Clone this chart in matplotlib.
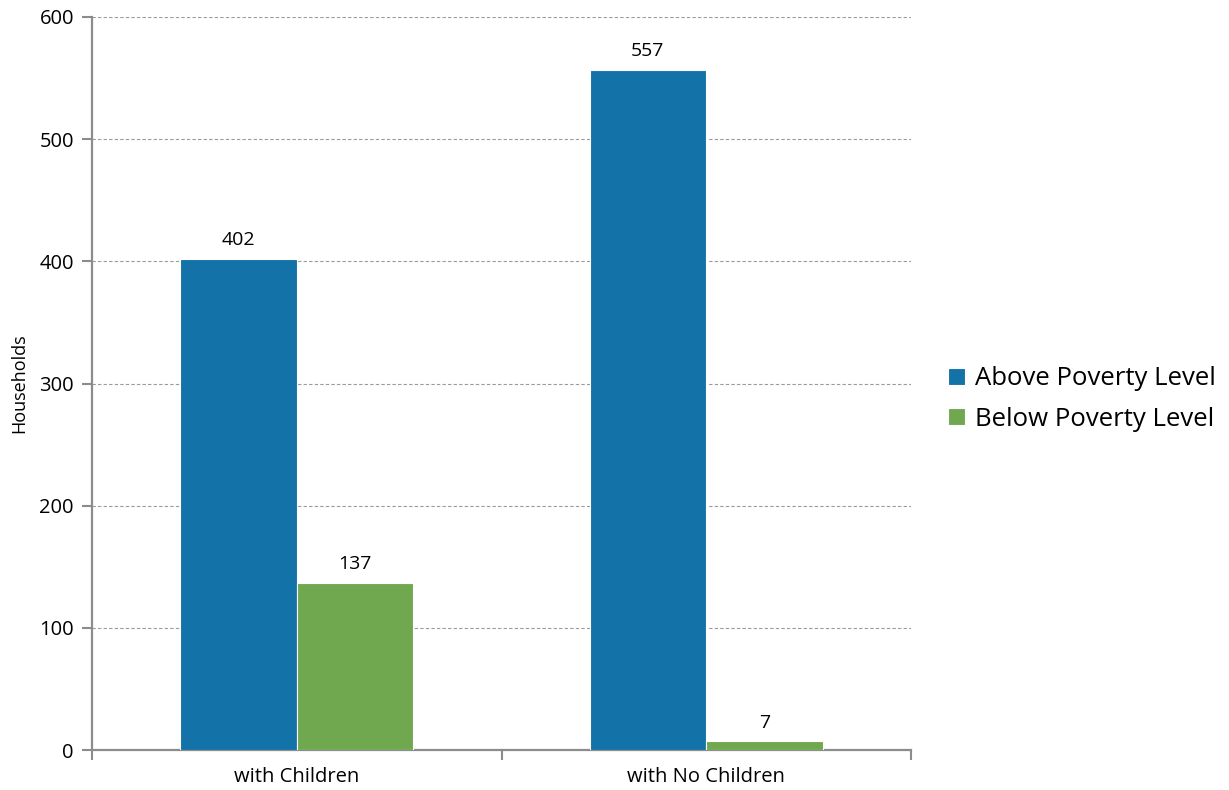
import matplotlib
matplotlib.use("Agg")
import matplotlib.pyplot as plt
import numpy as np

categories = ["with Children", "with No Children"]
series_names = ["Above Poverty Level", "Below Poverty Level"]
above = [402, 557]
below = [137, 7]
colors = ["#1372A8", "#70A84F"]

plt.rcParams['font.family'] = ['Open Sans', 'DejaVu Sans']

fig = plt.figure(figsize=(12.29, 7.9), dpi=100)
ax = fig.add_axes([92/1229, 1-750/790, (911-92)/1229, (750-17)/790])

x = np.arange(len(categories))
w = 0.285
b1 = ax.bar(x - w/2, above, w, color=colors[0], edgecolor="white", linewidth=0.8, label=series_names[0], zorder=3)
b2 = ax.bar(x + w/2, below, w, color=colors[1], edgecolor="white", linewidth=0.8, label=series_names[1], zorder=3)
for bars, vals in ((b1, above), (b2, below)):
    for r, v in zip(bars, vals):
        ax.annotate(str(v), (r.get_x() + r.get_width()/2, v), xytext=(0, 7), textcoords="offset points",
                    ha="center", va="bottom", fontsize=14)

ax.set_xlim(-0.5, len(categories) - 0.5)
ax.set_ylim(0, 600)
ax.set_yticks(range(0, 601, 100))
ax.yaxis.grid(True, linestyle=(0, (3, 2)), color="#9a9a9a", linewidth=0.8, zorder=0)
ax.set_xticks(np.arange(-0.5, len(categories), 1.0))
ax.set_xticklabels([])
ax.set_xticks(x, minor=True)
ax.set_xticklabels(categories, minor=True, fontsize=14.5)
ax.tick_params(axis="x", which="minor", length=0, pad=12)
ax.tick_params(axis="x", which="major", length=7, color="#8c8c8c", width=1.5, direction="out")
ax.tick_params(axis="y", length=7, color="#8c8c8c", width=1.5, labelsize=14.5, pad=6)
for s in ("top", "right"):
    ax.spines[s].set_visible(False)
for s in ("left", "bottom"):
    ax.spines[s].set_color("#8c8c8c")
    ax.spines[s].set_linewidth(1.6)
ax.set_ylabel("Households", fontsize=13, labelpad=8)

fig.legend(handles=[b1, b2], loc="center left", bbox_to_anchor=(925/1229, 1-399/790), frameon=False,
           fontsize=18.5, handlelength=0.65, handleheight=0.65, handletextpad=0.4, labelspacing=0.6)

fig.savefig("out.png", dpi=100)
